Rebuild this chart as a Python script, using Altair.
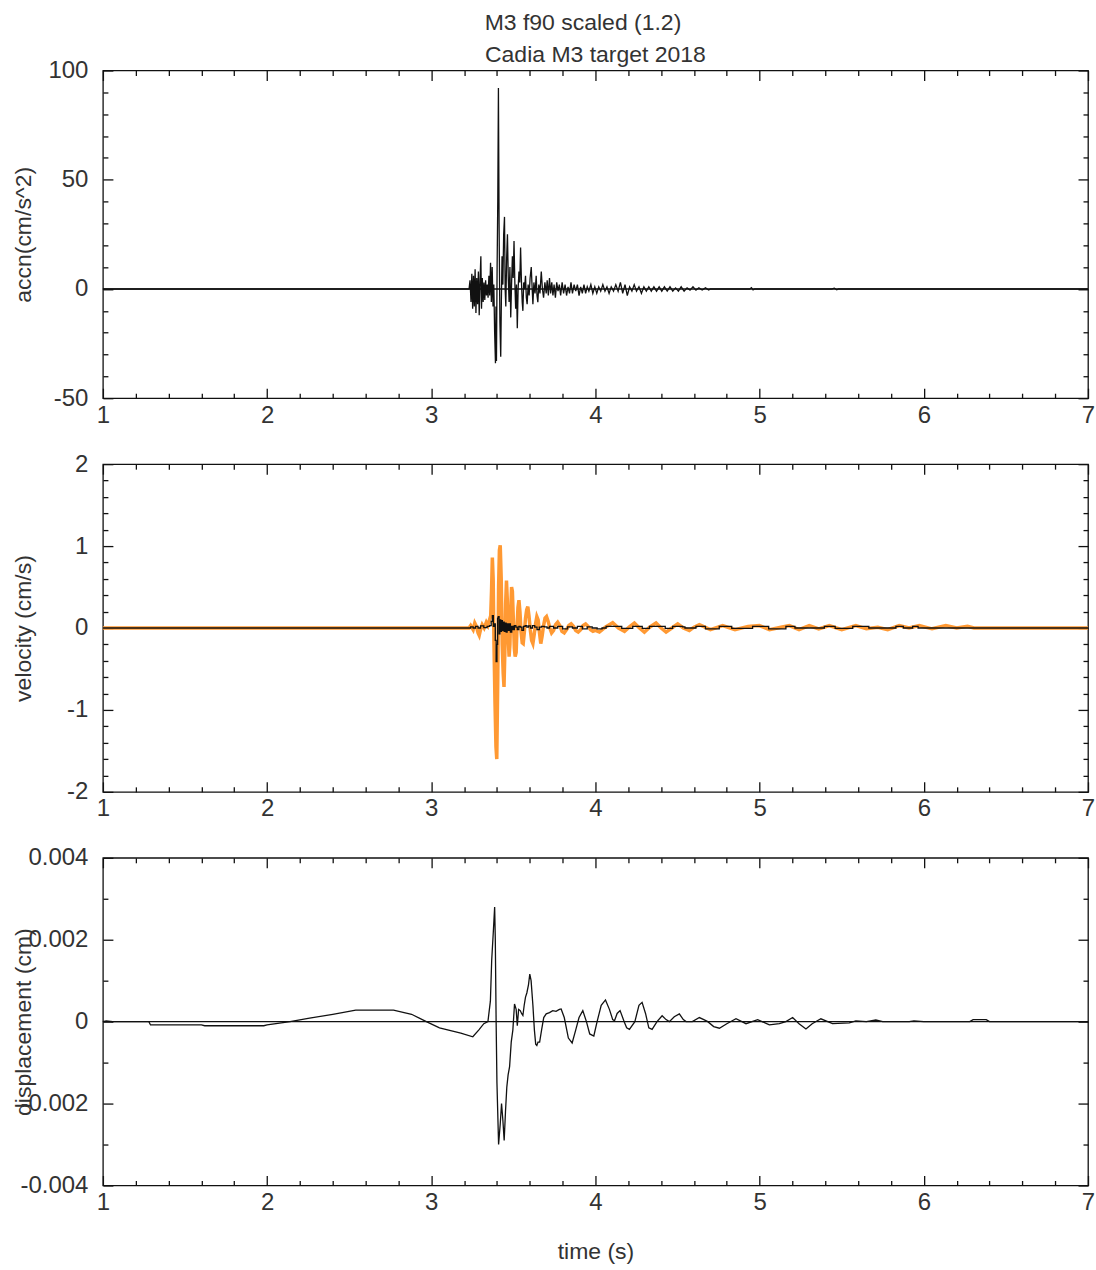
import altair as alt
import pandas as pd

# ---------------- data ----------------
ACC_T = [1.0, 3.230, 3.236, 3.242, 3.247, 3.252, 3.257, 3.262, 3.267, 3.272, 3.277, 3.282, 3.287,
         3.292, 3.297, 3.302, 3.306, 3.311, 3.316, 3.321, 3.326, 3.331, 3.336, 3.341, 3.346, 3.351,
         3.356, 3.361, 3.366, 3.371, 3.376, 3.381, 3.386, 3.391, 3.394, 3.397, 3.401, 3.405, 3.409,
         3.413, 3.418, 3.423, 3.427, 3.431, 3.436, 3.441, 3.446, 3.450, 3.454, 3.459, 3.464, 3.469,
         3.474, 3.479, 3.484, 3.489, 3.494, 3.499, 3.504, 3.509, 3.514, 3.519, 3.524, 3.529, 3.534,
         3.539, 3.544, 3.549, 3.554, 3.558, 3.563, 3.568, 3.574, 3.579, 3.584, 3.590, 3.596, 3.602,
         3.609, 3.614, 3.619, 3.625, 3.632, 3.639, 3.644, 3.649, 3.655, 3.662, 3.670, 3.677, 3.684,
         3.692, 3.700, 3.706, 3.713, 3.720, 3.727, 3.734, 3.741, 3.748, 3.756, 3.764, 3.772, 3.780,
         3.788, 3.797, 3.806, 3.815, 3.824, 3.833, 3.842, 3.851, 3.860, 3.870, 3.880, 3.890, 3.900,
         3.910, 3.920, 3.930, 3.940, 3.950, 3.960, 3.972, 3.984, 3.996, 4.008, 4.020, 4.032, 4.045,
         4.058, 4.070, 4.083, 4.096, 4.110, 4.124, 4.138, 4.152, 4.166, 4.180, 4.194, 4.208, 4.222,
         4.236, 4.250, 4.265, 4.280, 4.295, 4.310, 4.325, 4.340, 4.356, 4.372, 4.388, 4.404, 4.420,
         4.437, 4.454, 4.471, 4.488, 4.505, 4.522, 4.540, 4.558, 4.576, 4.594, 4.612, 4.630, 4.650,
         4.670, 4.690, 4.700, 4.940, 4.950, 4.960, 4.970, 5.440, 5.455, 5.470, 5.480, 7.0]
ACC_V = [0, 0, 4, -6, 7, -9, 6, -8, 9, -11, 5, -7, 8,
         -12, 4, 15, -9, 5, -6, 3, -5, 4, -3, 2, -4, 6,
         -3, 12, -6, 10, -8, 2, -20, -34, -8, -33, 10, 40, 92,
         30, -15, -31, -5, 15, 2, 25, 33, 0, -8, 14, 25, 5,
         -6, 10, -13, 2, 15, 5, 22, 3, -9, 2, -18, 0, 8,
         3, 19, 4, -6, -10, 3, 0, 6, -4, -7, 2, -3, 5,
         10, 1, -7, 3, -2, 6, -3, -6, 2, -2, 8, 0, -4,
         3, -2, 4, -3, 5, -2, 3, -3, 2, -4, 3, -1, 2,
         -3, 3, -2, 2, -3, 1, -2, 3, -2, 2, -1, 2, -3,
         1, -2, 2, -2, 1, -1, 2, -2, 1, -2, 1, -1, 2,
         -1, 1, -2, 1, -1, 2, -1, 3, -2, 2, -3, 1, -1,
         2, -1, 1, -2, 1, -1, 1, -1, 1, -1, 1, -1, 1,
         -1, 1, -1, 0.5, -1, 1, -1, 0.5, -0.5, 1, -0.5, 0.5, -0.5,
         0.5, -0.5, 0, 0, 0.6, -0.4, 0, 0, 0.4, -0.4, 0, 0]

VEL_SIM_T = [1.0, 3.230, 3.240, 3.255, 3.265, 3.275, 3.285, 3.292, 3.300, 3.310, 3.322, 3.335,
             3.345, 3.355, 3.362, 3.367, 3.372, 3.377, 3.382, 3.388, 3.394, 3.399, 3.405, 3.410,
             3.415, 3.420, 3.426, 3.432, 3.438, 3.443, 3.448, 3.453, 3.458, 3.463, 3.468, 3.474,
             3.479, 3.484, 3.489, 3.494, 3.500, 3.506, 3.511, 3.517, 3.522, 3.528, 3.534, 3.540,
             3.547, 3.554, 3.560, 3.567, 3.574, 3.581, 3.588, 3.595, 3.603, 3.611, 3.619, 3.627,
             3.635, 3.643, 3.651, 3.659, 3.667, 3.675, 3.684, 3.693, 3.702, 3.712, 3.722, 3.733,
             3.745, 3.757, 3.770, 3.783, 3.796, 3.810, 3.824, 3.838, 3.852, 3.866, 3.880, 3.895,
             3.910, 3.925, 3.940, 3.955, 3.970, 3.985, 4.000, 4.024, 4.060, 4.105, 4.140, 4.177,
             4.205, 4.237, 4.268, 4.298, 4.330, 4.369, 4.400, 4.430, 4.465, 4.501, 4.535, 4.572,
             4.600, 4.633, 4.700, 4.775, 4.850, 4.930, 4.998, 5.060, 5.130, 5.181, 5.240, 5.302,
             5.360, 5.424, 5.500, 5.586, 5.650, 5.720, 5.780, 5.850, 5.910, 5.972, 6.050, 6.134,
             6.200, 6.266, 6.306, 7.0]
VEL_SIM_V = [0, 0, 0.03, -0.02, 0.06, 0.02, -0.06, -0.09, -0.02, 0.04, 0.00, 0.07,
             0.03, 0.10, 0.15, 0.45, 0.86, 0.6, -0.2, -0.9, -1.45, -1.6, -0.6, 0.5,
             0.95, 1.01, 0.6, -0.2, -0.55, -0.72, -0.3, 0.3, 0.58, 0.35, -0.1, -0.35,
             -0.2, 0.2, 0.5, 0.45, 0.1, -0.25, -0.35, -0.3, 0.0, 0.25, 0.34, 0.2,
             -0.05, -0.18, -0.19, -0.05, 0.12, 0.22, 0.26, 0.15, -0.02, -0.15, -0.19, -0.08,
             0.05, 0.14, 0.1, -0.06, -0.19, -0.1, 0.03, 0.12, 0.14, 0.08, 0.0, -0.06,
             -0.03, 0.04, 0.07, 0.03, -0.04, -0.06, -0.02, 0.03, 0.05, 0.02, -0.03, -0.05,
             -0.02, 0.03, 0.05, 0.02, -0.02, -0.04, -0.03, -0.05, 0.01, 0.065, 0.0, -0.04,
             0.01, 0.06, 0.0, -0.05, 0.01, 0.06, 0.0, -0.05, 0.0, 0.05, 0.0, -0.03,
             0.01, 0.04, -0.02, 0.03, -0.02, 0.02, 0.03, -0.02, 0.01, 0.03, -0.02, 0.03,
             -0.01, 0.03, -0.02, 0.03, -0.01, 0.01, -0.02, 0.03, 0.0, 0.03, -0.01, 0.03,
             0.0, 0.02, 0.0, 0]

VEL_REC_T = [1.0, 3.230, 3.240, 3.255, 3.270, 3.285, 3.300, 3.320, 3.340, 3.355, 3.365, 3.372,
             3.378, 3.384, 3.390, 3.395, 3.400, 3.404, 3.408, 3.413, 3.418, 3.423, 3.428, 3.433,
             3.438, 3.444, 3.450, 3.456, 3.462, 3.468, 3.475, 3.482, 3.490, 3.498, 3.506, 3.515,
             3.524, 3.533, 3.542, 3.552, 3.562, 3.572, 3.582, 3.592, 3.604, 3.616, 3.630, 3.644,
             3.658, 3.672, 3.688, 3.705, 3.720, 3.745, 3.770, 3.800, 3.830, 3.860, 3.890, 3.920,
             3.950, 3.980, 4.010, 4.040, 4.065, 4.146, 4.160, 4.227, 4.268, 4.285, 4.329, 4.410,
             4.425, 4.470, 4.531, 4.545, 4.612, 4.653, 4.670, 4.754, 4.815, 4.830, 4.957, 5.038,
             5.055, 5.160, 5.201, 5.215, 5.394, 5.445, 5.460, 5.567, 5.648, 5.665, 5.830, 5.860,
             5.875, 5.932, 5.952, 5.965, 6.250, 7.0]
VEL_REC_V = [0, 0, 0.015, 0.0, 0.02, 0.0, 0.025, 0.005, 0.02, 0.03, 0.08, 0.15,
             0.02, 0.05, -0.15, -0.41, -0.2, 0.12, 0.14, -0.07, 0.1, -0.04, 0.09, -0.03,
             0.07, -0.04, 0.06, -0.05, 0.05, -0.03, 0.05, -0.05, 0.02, -0.02, 0.03, 0.01,
             -0.02, 0.02, 0.01, -0.03, 0.02, 0.03, 0.01, 0.025, 0.0, 0.03, 0.01, -0.02,
             0.01, 0.02, 0.015, 0.0, 0.02, 0.0, 0.02, -0.01, 0.015, 0.0, 0.02, -0.01,
             0.015, 0.0, -0.01, 0.0, 0.02, 0.02, -0.005, 0.02, 0.02, -0.005, 0.02, 0.02,
             -0.005, 0.02, 0.015, 0.0, 0.02, 0.02, -0.01, 0.02, 0.02, -0.005, 0.02, 0.02,
             -0.01, 0.02, 0.02, 0.0, 0.02, 0.02, -0.005, 0.02, 0.02, 0.0, 0.02, 0.02,
             0.0, 0.02, 0.02, 0.0, 0.0, 0]

DISP_T = [1.0, 1.02, 1.06, 1.28, 1.29, 1.60, 1.62, 1.98, 2.00, 2.14, 2.25, 2.40, 2.54, 2.77,
          2.88, 2.97, 3.05, 3.18, 3.253, 3.29, 3.32, 3.345, 3.360, 3.368, 3.378, 3.386, 3.390,
          3.395, 3.400, 3.410, 3.420, 3.428, 3.436, 3.444, 3.452, 3.460, 3.468, 3.477, 3.487,
          3.497, 3.507, 3.517, 3.524, 3.532, 3.542, 3.550, 3.558, 3.566, 3.574, 3.582, 3.592,
          3.600, 3.608, 3.619, 3.628, 3.636, 3.643, 3.650, 3.660, 3.672, 3.685, 3.700, 3.720,
          3.740, 3.760, 3.780, 3.791, 3.810, 3.835, 3.858, 3.880, 3.900, 3.923, 3.945, 3.965,
          3.990, 4.010, 4.035, 4.061, 4.085, 4.105, 4.116, 4.132, 4.150, 4.175, 4.190, 4.207,
          4.240, 4.265, 4.284, 4.305, 4.325, 4.345, 4.375, 4.406, 4.430, 4.450, 4.480, 4.511,
          4.535, 4.552, 4.590, 4.633, 4.660, 4.684, 4.720, 4.755, 4.800, 4.856, 4.917, 4.988,
          5.059, 5.120, 5.160, 5.201, 5.240, 5.282, 5.320, 5.373, 5.444, 5.546, 5.586, 5.650,
          5.708, 5.750, 5.911, 5.940, 6.000, 6.280, 6.300, 6.380, 6.400, 7.0]
DISP_V = [0.0, 0.00002, 0.0, 0.0, -0.00008, -0.00008, -0.0001, -0.0001, -0.00008, 0.0, 0.00008,
          0.00018, 0.00028, 0.00028, 0.00018, 0.0, -0.00015, -0.00028, -0.00037, -0.0002, -0.00005,
          0.0, 0.0005, 0.0015, 0.0022, 0.0028, 0.002, 0.0, -0.0015, -0.003, -0.0025, -0.002,
          -0.0024, -0.0029, -0.0022, -0.0016, -0.0013, -0.0011, -0.0005, -0.0002, 0.00043, 0.0003,
          -0.0001, 0.0003, 0.00027, 0.0002, 0.00015, 0.0004, 0.0006, 0.0007, 0.0009, 0.00116,
          0.001, 0.0004, -0.0002, -0.00055, -0.00058, -0.0005, -0.0005, -0.0002, 0.0001, 0.00019,
          0.00022, 0.00027, 0.00025, 0.0003, 0.00031, 0.0001, -0.0004, -0.00052, -0.0002, 0.0001,
          0.00027, 0.0, -0.0003, -0.00035, 0.0, 0.0004, 0.00053, 0.0003, 0.00005, 0.00002, 0.0002,
          0.00027, 0.0, -0.00015, -0.00019, 0.0, 0.0004, 0.00047, 0.0002, -0.00015, -0.00019, 0.0,
          0.000145, 0.00005, 0.0, 0.00012, 0.00019, 0.00005, 0.0, 0.0, 0.0001, 0.00005, 0.0,
          -0.00012, -0.00016, -0.00005, 0.00007, -0.00005, 0.00005, -0.00008, -0.00005, 0.0,
          0.0001, -0.00005, -0.00018, -0.00005, 0.00007, -0.00005, -0.00003, 0.00002, 0.0,
          0.00004, 0.0, 0.0, 0.00002, 0.0, 0.0, 0.00005, 0.00005, 0.0, 0.0]

X_MAJOR = [1, 2, 3, 4, 5, 6, 7]
X_MINOR = [1.2, 1.4, 1.6, 1.8, 2.2, 2.4, 2.6, 2.8, 3.2, 3.4, 3.6, 3.8, 4.2, 4.4, 4.6, 4.8,
           5.2, 5.4, 5.6, 5.8, 6.2, 6.4, 6.6, 6.8]
ACC_MAJOR = [-50, 0, 50, 100]
ACC_MINOR = [-40, -30, -20, -10, 10, 20, 30, 40, 60, 70, 80, 90]
VEL_MAJOR = [-2, -1, 0, 1, 2]
VEL_MINOR = [-1.8, -1.6, -1.4, -1.2, -0.8, -0.6, -0.4, -0.2, 0.2, 0.4, 0.6, 0.8,
             1.2, 1.4, 1.6, 1.8]
DISP_MAJOR = [-0.004, -0.002, 0, 0.002, 0.004]
DISP_MINOR = [-0.003, -0.001, 0.001, 0.003]

FONT = "Liberation Sans"
TXT = "#333333"
W, H = 986, 328
FS_LAB = 24
FS_TTL = 23


def label_expr(fmt):
    return ("datum.value < 0 ? '-' + format(-datum.value, '%s') : format(datum.value, '%s')"
            % (fmt, fmt))


def panel(ydomain, ymajor, yminor, ytitle, xtitle, lines, zero_rule, yfmt):
    xs = alt.Scale(domain=[1, 7], nice=False, zero=False)
    ys = alt.Scale(domain=ydomain, nice=False, zero=False)
    dummy = pd.DataFrame({"t": [1, 7], "v": ydomain})

    def axis_layer(x_orient, y_orient, xvals, yvals, size, labels, xt, yt):
        common = dict(domain=False, grid=False, tickColor="#111111", tickWidth=1.3,
                      tickSize=size, offset=-size, labelFont=FONT, labelFontSize=FS_LAB,
                      labelColor=TXT, titleFont=FONT, titleFontSize=FS_TTL, titleColor=TXT,
                      titleFontWeight="normal", labelFlush=False, labelOverlap=False,
                      labelBound=False, minExtent=0)
        xa = alt.Axis(orient=x_orient, values=xvals, labels=labels, labelPadding=5,
                      title=xt, titlePadding=26, labelExpr=label_expr("d"), **common)
        ya_kwargs = dict(orient=y_orient, values=yvals, labels=labels, labelPadding=15,
                         title=yt, labelExpr=label_expr(yfmt), **common)
        if yt is not None:
            ya_kwargs.update(titleX=-82, titleY=H / 2, titleAlign="center",
                             titleBaseline="alphabetic", titleAngle=270)
        ya = alt.Axis(**ya_kwargs)
        return alt.Chart(dummy).mark_point(opacity=0).encode(
            x=alt.X("t:Q", scale=xs, axis=xa),
            y=alt.Y("v:Q", scale=ys, axis=ya),
        )

    layers = [
        axis_layer("bottom", "left", X_MAJOR, ymajor, 10, True, xtitle, ytitle),
        axis_layer("bottom", "left", X_MINOR, yminor, 5, False, None, None),
        axis_layer("top", "right", X_MAJOR, ymajor, 10, False, None, None),
        axis_layer("top", "right", X_MINOR, yminor, 5, False, None, None),
    ]
    if zero_rule:
        layers.append(
            alt.Chart(pd.DataFrame({"v": [0]})).mark_rule(color="#111111", strokeWidth=1.4)
            .encode(y=alt.Y("v:Q", scale=ys, axis=None))
        )
    for t, v, color, width, interp in lines:
        df = pd.DataFrame({"t": t, "v": v})
        layers.append(
            alt.Chart(df).mark_line(color=color, strokeWidth=width, interpolate=interp)
            .encode(x=alt.X("t:Q", scale=xs, axis=None),
                    y=alt.Y("v:Q", scale=ys, axis=None),
                    order="t:Q")
        )
    return alt.layer(*layers).resolve_axis(x="independent", y="independent").properties(
        width=W, height=H)


p1 = panel([-50, 100], ACC_MAJOR, ACC_MINOR, "accn(cm/s^2)", None,
           [(ACC_T, ACC_V, "#111111", 1.3, "linear")], True, "d")
p1 = p1.properties(title=alt.TitleParams("Cadia M3 target 2018", anchor="middle", frame="group",
                                         font=FONT, fontSize=FS_TTL, color=TXT,
                                         fontWeight="normal", baseline="alphabetic",
                                         offset=-26))
p2 = panel([-2, 2], VEL_MAJOR, VEL_MINOR, "velocity (cm/s)", None,
           [(VEL_SIM_T, VEL_SIM_V, "#ff9933", 3.5, "linear"),
            (VEL_REC_T, VEL_REC_V, "#111111", 1.3, "step-after")], False, "d")
p3 = panel([-0.004, 0.004], DISP_MAJOR, DISP_MINOR, "displacement (cm)", "time (s)",
           [(DISP_T, DISP_V, "#111111", 1.3, "linear")], True, "~g")

chart = alt.VConcatChart(
    vconcat=[p1, p2, p3], spacing=66, bounds="flush",
    title=alt.TitleParams("M3 f90 scaled (1.2)", anchor="middle", font=FONT, fontSize=FS_TTL,
                          color=TXT, fontWeight="normal", baseline="alphabetic", offset=-10,
                          dx=29),
).configure_view(stroke="#111111", strokeWidth=1.3).properties(
    background="white", padding={"left": 12, "top": 11, "right": 0, "bottom": 0}
)

chart.save("out.html", embed_options={"renderer": "svg", "actions": False})
